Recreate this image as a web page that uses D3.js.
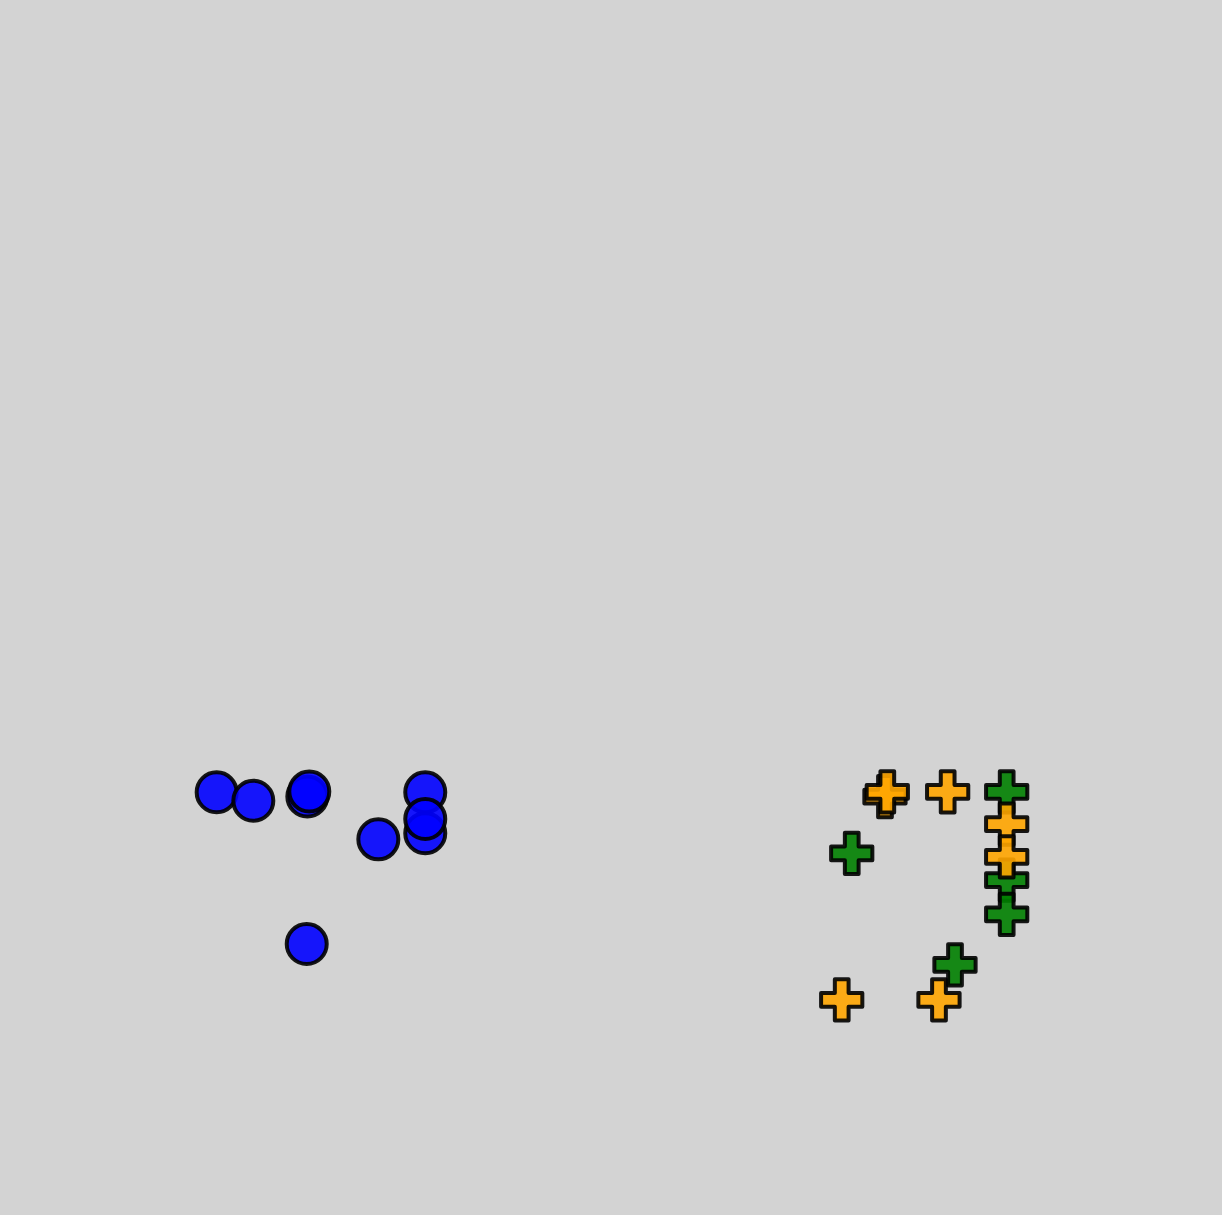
<!DOCTYPE html>
<html>
<head>
<meta charset="utf-8">
<script src="https://cdn.jsdelivr.net/npm/d3@7"></script>
<style>
  html, body { margin: 0; padding: 0; background: #d3d3d3; }
  svg { display: block; }
</style>
</head>
<body>
<div id="chart"></div>
<script>
// Data (notional units, x and y in 0..100)
const blueX = [17.73, 20.73, 25.15, 25.31, 34.80, 34.80, 34.80, 30.96, 25.10];
const blueY = [34.79, 34.10, 34.44, 34.86, 34.79, 31.42, 32.59, 30.92, 22.30];

const greenX = [82.38, 82.38, 82.38, 69.70, 78.15];
const greenY = [34.83, 27.57, 24.75, 29.77, 20.58];

const orangeX = [72.42, 72.61, 77.55, 82.38, 82.38, 68.88, 76.84];
const orangeY = [34.44, 34.83, 34.83, 32.18, 29.47, 17.70, 17.70];

const W = 1222, H = 1215;
const svg = d3.select("#chart").append("svg").attr("width", W).attr("height", H);
svg.append("rect").attr("width", W).attr("height", H).attr("fill", "#d3d3d3");

const x = d3.scaleLinear().domain([0, 100]).range([0, W]);
const y = d3.scaleLinear().domain([0, 100]).range([H, 0]);

const toPts = (xs, ys) => xs.map((v, i) => ({x: v, y: ys[i]}));

const cross = d3.symbol().type(d3.symbolCross).size(945);

function drawCrosses(pts, color) {
  svg.append("g").selectAll("path").data(pts).join("path")
    .attr("d", cross)
    .attr("transform", d => `translate(${x(d.x)},${y(d.y)})`)
    .attr("fill", color).attr("fill-opacity", 0.9)
    .attr("stroke", "#000").attr("stroke-opacity", 0.9)
    .attr("stroke-width", 4).attr("stroke-linejoin", "round");
}

svg.append("g").selectAll("circle").data(toPts(blueX, blueY)).join("circle")
  .attr("cx", d => x(d.x)).attr("cy", d => y(d.y)).attr("r", 20)
  .attr("fill", "blue").attr("fill-opacity", 0.9)
  .attr("stroke", "#000").attr("stroke-opacity", 0.9).attr("stroke-width", 4);

drawCrosses(toPts(greenX, greenY), "green");
drawCrosses(toPts(orangeX, orangeY), "orange");
</script>
</body>
</html>
